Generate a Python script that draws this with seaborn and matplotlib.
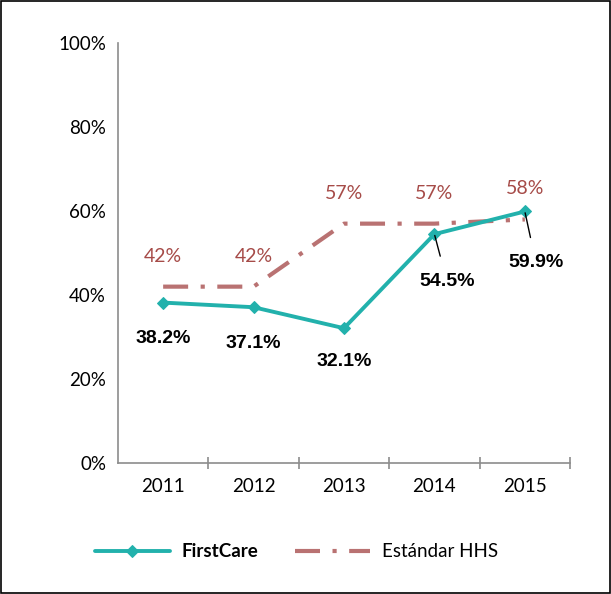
import matplotlib.pyplot as plt
import seaborn as sns
import pandas as pd
from matplotlib.patches import Rectangle

years = ['2011', '2012', '2013', '2014', '2015']
firstcare = [38.2, 37.1, 32.1, 54.5, 59.9]
hhs = [42, 42, 57, 57, 58]

teal = '#22B1AC'
rose = '#B97272'
rose_txt = '#A64B48'

sns.set_style('white')
plt.rcParams['font.family'] = ['Lato', 'DejaVu Sans']
plt.rcParams['text.color'] = 'black'
plt.rcParams['xtick.color'] = 'black'
plt.rcParams['ytick.color'] = 'black'

df = pd.DataFrame({'year': years, 'FirstCare': firstcare, 'HHS': hhs})

fig = plt.figure(figsize=(6.11, 5.94), dpi=100)
ax = fig.add_axes([0.193, 0.2205, 0.74, 0.707])

sns.lineplot(data=df, x='year', y='HHS', ax=ax, color=rose, lw=3,
             linestyle=(0, (6, 3, 1, 3)), label='Estándar HHS', sort=False)
sns.lineplot(data=df, x='year', y='FirstCare', ax=ax, color=teal, lw=2.8,
             marker='D', markersize=7, markeredgecolor=teal,
             label='FirstCare', sort=False)

ax.set_xlim(-0.5, 4.5)
ax.set_ylim(0, 100)
ax.set_yticks([0, 20, 40, 60, 80, 100])
ax.set_yticklabels([f'{v}%' for v in [0, 20, 40, 60, 80, 100]])
ax.set_xticks(range(len(years)))
ax.set_xticks([i + 0.5 for i in range(len(years))], minor=True)
ax.set_xlabel('')
ax.set_ylabel('')
for s in ['top', 'right']:
    ax.spines[s].set_visible(False)
for s in ['left', 'bottom']:
    ax.spines[s].set_color('#8C8C8C')
    ax.spines[s].set_linewidth(1.2)
ax.tick_params(axis='y', which='major', length=9, width=1.2, color='#8C8C8C',
               labelcolor='black', direction='inout', labelsize=13.5, pad=4)
ax.tick_params(axis='x', which='major', length=0, labelsize=13.5, pad=11,
               labelcolor='black')
ax.tick_params(axis='x', which='minor', length=9, width=1.2, color='#8C8C8C',
               direction='inout')
ax.tick_params(axis='x', which='minor', bottom=True)

# HHS labels
for i, v in enumerate(hhs):
    ax.annotate(f'{v}%', (i, v), xytext=(0, 22), textcoords='offset points',
                ha='center', va='center', color=rose_txt, fontsize=14)

# FirstCare labels
offsets = [(0, -26), (0, -26), (0, -24), (9, -34), (8, -37)]
for i, v in enumerate(firstcare):
    dx, dy = offsets[i]
    if i >= 3:
        ax.annotate(f'{v}%', (i, v), xytext=(dx, dy), textcoords='offset points',
                    ha='center', va='center', fontsize=14, fontweight='bold',
                    family=['Liberation Sans', 'DejaVu Sans'],
                    arrowprops=dict(arrowstyle='-', color='black', lw=1,
                                    shrinkA=10, shrinkB=1))
    else:
        ax.annotate(f'{v}%', (i, v), xytext=(dx, dy), textcoords='offset points',
                    ha='center', va='center', fontsize=14, fontweight='bold',
                    family=['Liberation Sans', 'DejaVu Sans'])

ax.get_legend().remove()
h, l = ax.get_legend_handles_labels()
h[1].set_markersize(6)
leg = fig.legend(h[::-1], l[::-1], loc='center', bbox_to_anchor=(0.485, 0.071),
                 ncol=2, frameon=False, fontsize=13.5, handlelength=4.0,
                 columnspacing=2.0, handletextpad=0.6)
leg.get_texts()[0].set_fontweight('bold')

fig.patches.append(Rectangle((0.002, 0.002), 0.996, 0.996, transform=fig.transFigure,
                             fill=False, edgecolor='black', lw=1.2))

fig.savefig('out.png', dpi=100)
